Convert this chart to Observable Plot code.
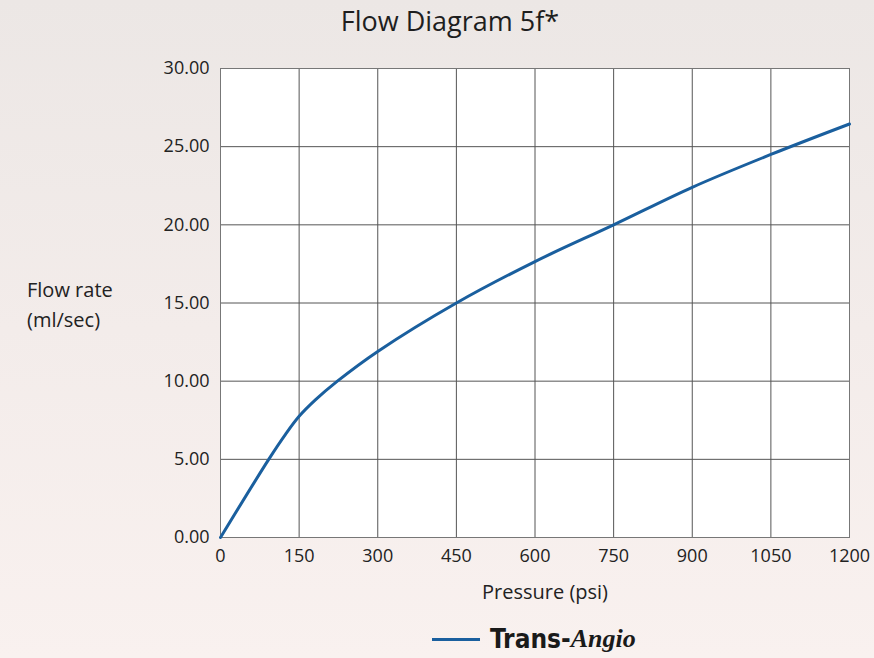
<!DOCTYPE html>
<html>
<head>
<meta charset="utf-8">
<script src="https://cdn.jsdelivr.net/npm/d3@7"></script>
<script src="https://cdn.jsdelivr.net/npm/@observablehq/plot@0.6"></script>
<style>
  html, body { margin: 0; padding: 0; }
  body {
    width: 874px; height: 658px; position: relative; overflow: hidden;
    background: linear-gradient(180deg, #ece7e5 0%, #f3ecea 50%, #f9f1ef 100%);
    font-family: "Open Sans", "Noto Sans", sans-serif; color: #222;
  }
  #title { position: absolute; left: 0; width: 900px; top: 2px; text-align: center; font-size: 27px; color: #1e1e1e; }
  #ylab { position: absolute; left: 27px; top: 275px; font-size: 20px; line-height: 30px; color: #222; }
  #chart { position: absolute; left: 0; top: 0; }
  #legend { position: absolute; left: 432px; top: 624px; display: flex; align-items: center; }
  #legend .sw { width: 48px; height: 3px; background: #1a5f9e; margin-right: 10px; }
  #legend .t1 { font-family: "Liberation Sans Narrow", "DejaVu Sans Condensed", sans-serif; font-weight: bold; font-size: 26px; color: #1a1a1a; }
  #legend .t2 { font-family: "Liberation Serif", serif; font-style: italic; font-weight: bold; font-size: 26px; color: #1a1a1a; }
</style>
</head>
<body>
<div id="chart"></div>
<div id="title">Flow Diagram 5f*</div>
<div id="ylab">Flow rate<br>(ml/sec)</div>
<div id="legend"><div class="sw"></div><span class="t1">Trans-</span><span class="t2">Angio</span></div>
<script>
const pressure = [0, 92, 124, 150, 181, 223, 300, 450, 600, 750, 900, 1050, 1200];
const flowRate = [0, 5.0, 6.6, 7.75, 8.8, 10.0, 11.9, 15.0, 17.65, 20.0, 22.4, 24.5, 26.45];
const xTicks = [0, 150, 300, 450, 600, 750, 900, 1050, 1200];
const yTicks = [0, 5, 10, 15, 20, 25, 30];
const seriesName = "Trans-Angio";

const data = pressure.map((p, i) => ({pressure: p, flow: flowRate[i], series: seriesName}));

const chart = Plot.plot({
  width: 874,
  height: 658,
  marginLeft: 220,
  marginRight: 25,
  marginTop: 68,
  marginBottom: 121,
  style: {background: "transparent", fontFamily: "Open Sans, Noto Sans, sans-serif", fontSize: "18px", color: "#222"},
  x: {domain: [0, 1200], ticks: xTicks, label: null},
  y: {domain: [0, 30], ticks: yTicks, label: null},
  marks: [
    Plot.frame({fill: "white", stroke: "none"}),
    Plot.gridX(xTicks, {stroke: "#555", strokeOpacity: 1, strokeWidth: 1}),
    Plot.gridY(yTicks, {stroke: "#555", strokeOpacity: 1, strokeWidth: 1}),
    Plot.frame({stroke: "#777", strokeWidth: 1}),
    Plot.axisX(xTicks, {tickSize: 0, tickPadding: 12, tickFormat: d => String(d), fontSize: 18, label: null}),
    Plot.axisY(yTicks, {tickSize: 0, tickPadding: 11, tickFormat: d => d.toFixed(2), fontSize: 18, label: null}),
    Plot.text(["Pressure (psi)"], {frameAnchor: "bottom", dx: 10, dy: 61, text: d => d, fontSize: 20, fill: "#222"}),
    Plot.line(data, {x: "pressure", y: "flow", stroke: "#1a5f9e", strokeWidth: 3, curve: "catmull-rom"})
  ]
});
document.getElementById("chart").appendChild(chart);
</script>
</body>
</html>
